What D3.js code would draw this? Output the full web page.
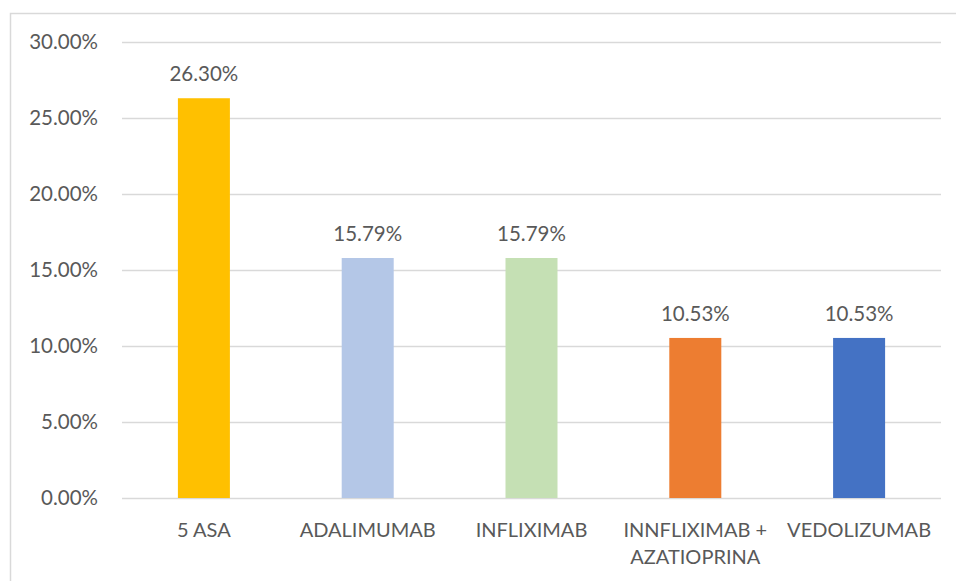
<!DOCTYPE html>
<html>
<head>
<meta charset="utf-8">
<script src="https://cdn.jsdelivr.net/npm/d3@7"></script>
<style>
  html, body { margin: 0; padding: 0; background: #fff; }
  svg { display: block; }
  text { font-family: Lato, "Open Sans", sans-serif; fill: #595959; }
</style>
</head>
<body>
<svg id="chart" width="956" height="581"></svg>
<script>
// Treatment categories and share of patients
const categories = ["5 ASA", "ADALIMUMAB", "INFLIXIMAB", "INNFLIXIMAB + AZATIOPRINA", "VEDOLIZUMAB"];
const shares = [0.2630, 0.1579, 0.1579, 0.1053, 0.1053];
const barColors = ["#FFC000", "#B4C7E7", "#C5E0B4", "#ED7D31", "#4472C4"];
const yTicks = [0, 0.05, 0.10, 0.15, 0.20, 0.25, 0.30];

const svg = d3.select("#chart");
const plot = { left: 122, right: 941, top: 42, bottom: 498 };
const numSize = 20.5, catSize = 20;

// chart frame
svg.append("rect")
  .attr("x", 10.5).attr("y", 13.5)
  .attr("width", 980).attr("height", 620)
  .attr("fill", "none").attr("stroke", "#d9d9d9").attr("stroke-width", 1.5);

const x = d3.scaleBand()
  .domain(categories)
  .range([plot.left, plot.right])
  .paddingInner(0.6825)
  .paddingOuter(0.34125);

const y = d3.scaleLinear()
  .domain([0, 0.30])
  .range([plot.bottom, plot.top]);

const pct = d3.format(".2%");

// y axis with gridlines
const yAxis = svg.append("g")
  .attr("transform", `translate(${plot.left},0)`)
  .call(d3.axisLeft(y).tickValues(yTicks).tickFormat(pct)
    .tickSize(-(plot.right - plot.left)).tickPadding(24));
yAxis.select(".domain").remove();
yAxis.selectAll(".tick line").attr("stroke", "#d9d9d9").attr("stroke-width", 1.5);
yAxis.selectAll(".tick text")
  .attr("font-size", numSize).style("font-family", "Lato, sans-serif").attr("fill", "#595959");

// bars
svg.append("g").selectAll("rect")
  .data(categories)
  .join("rect")
  .attr("x", d => x(d))
  .attr("width", x.bandwidth())
  .attr("y", (d, i) => y(shares[i]))
  .attr("height", (d, i) => y(0) - y(shares[i]))
  .attr("fill", (d, i) => barColors[i]);

// value labels
svg.append("g").selectAll("text")
  .data(categories)
  .join("text")
  .attr("x", d => x(d) + x.bandwidth() / 2)
  .attr("y", (d, i) => y(shares[i]) - 17)
  .attr("text-anchor", "middle")
  .attr("font-size", numSize)
  .text((d, i) => pct(shares[i]));

// category labels, wrapped to the band width
const xLabels = svg.append("g").selectAll("text")
  .data(categories)
  .join("text")
  .attr("x", d => x(d) + x.bandwidth() / 2)
  .attr("y", plot.bottom + 39)
  .attr("text-anchor", "middle")
  .attr("font-size", catSize);

const maxW = x.step() - 6;
xLabels.each(function(d) {
  const t = d3.select(this);
  const cx = t.attr("x");
  const words = d.split(" ");
  let line = [];
  let tspan = t.append("tspan").attr("x", cx).attr("dy", 0);
  words.forEach(w => {
    line.push(w);
    tspan.text(line.join(" "));
    if (tspan.node().getComputedTextLength() > maxW && line.length > 1) {
      line.pop();
      tspan.text(line.join(" "));
      line = [w];
      tspan = t.append("tspan").attr("x", cx).attr("dy", 27).text(w);
    }
  });
});
</script>
</body>
</html>
